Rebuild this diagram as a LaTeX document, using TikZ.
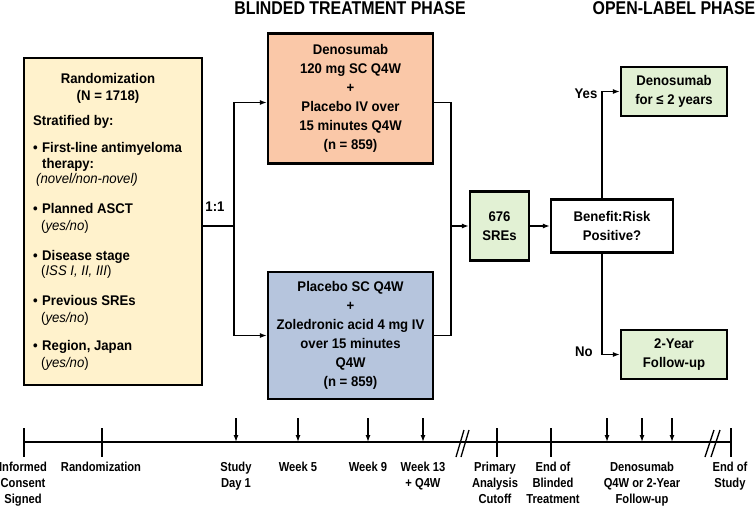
\documentclass[tikz,border=0pt]{standalone}
\usepackage{fontspec}
\setmainfont[FakeStretch=0.94]{Liberation Sans}
\newfontfamily\condfont[FakeStretch=0.86]{Liberation Sans}
\usetikzlibrary{arrows.meta}
\definecolor{randfill}{RGB}{255,242,204}
\definecolor{denofill}{RGB}{250,200,168}
\definecolor{plcfill}{RGB}{182,197,221}
\definecolor{grnfill}{RGB}{226,241,212}
\newcommand\mybul{\makebox[9pt][l]{•}}
\begin{document}
\begin{tikzpicture}[x=1pt,y=-1pt,
  box/.style={draw=black, line width=2.2pt, inner sep=0pt, align=center,
    font=\bfseries\fontsize{14}{19}\selectfont},
  conn/.style={line width=1.3pt},
  arr/.style={conn, -{Latex[length=7pt,width=5pt]}},
  rtxt/.style={inner sep=0pt, anchor=base west, font=\bfseries\fontsize{14}{16}\selectfont},
  rital/.style={inner sep=0pt, anchor=base west, font=\mdseries\fontsize{14}{16}\selectfont},
  lbl/.style={inner sep=0pt, font=\bfseries\fontsize{14}{16}\selectfont},
  hdr/.style={inner sep=0pt, font=\condfont\bfseries\fontsize{18.5}{20}\selectfont},
  tl/.style={inner sep=0pt, anchor=north, align=center, font=\condfont\bfseries\fontsize{13}{16}\selectfont}]
\useasboundingbox (0,0) rectangle (756,512);

% headers
\node[hdr] (h1) at (350,8.5) {BLINDED TREATMENT PHASE};
\node[hdr] (h2) at (674,8.5) {OPEN-LABEL PHASE};

% randomization box
\node[box, fill=randfill, minimum width=178pt, minimum height=327pt] (rand) at (113,221.5) {};
\node[rtxt, anchor=base] (rt1) at (108,83) {Randomization};
\node[rtxt, anchor=base] (rt2) at (108,100) {(N = 1718)};
\node[rtxt] (rt3) at (33,125) {Stratified by:};
\node[rtxt] (rt4) at (33,152) {\mybul First-line antimyeloma};
\node[rtxt] (rt5) at (42,168) {therapy:};
\node[rital] (rt6) at (36,183) {\itshape(novel/non-novel)};
\node[rtxt] (rt7) at (33,213) {\mybul Planned ASCT};
\node[rital] (rt8) at (41,230) {(\textit{yes/no})};
\node[rtxt] (rt9) at (33,260) {\mybul Disease stage};
\node[rital] (rt10) at (41,275) {(\textit{ISS I, II, III})};
\node[rtxt] (rt11) at (33,305) {\mybul Previous SREs};
\node[rital] (rt12) at (41,322) {(\textit{yes/no})};
\node[rtxt] (rt13) at (33,350) {\mybul Region, Japan};
\node[rital] (rt14) at (41,367) {(\textit{yes/no})};

% treatment boxes
\node[box, fill=denofill, minimum width=165pt, minimum height=130pt] (den) at (350.5,98.5)
  {Denosumab\\120 mg SC Q4W\\+\\Placebo IV over\\15 minutes Q4W\\(n = 859)};
\node[box, fill=plcfill, minimum width=165pt, minimum height=127pt] (plc) at (350.5,335.5)
  {Placebo SC Q4W\\+\\Zoledronic acid 4 mg IV\\over 15 minutes\\Q4W\\(n = 859)};

\node[box, fill=grnfill, minimum width=59pt, minimum height=69pt] (sre) at (499.5,226) {676\\SREs};
\node[box, fill=white, minimum width=122pt, minimum height=53pt] (ben) at (612,226) {Benefit:Risk\\Positive?};
\node[box, fill=grnfill, minimum width=106pt, minimum height=49pt] (yesb) at (674,91.5) {Denosumab\\for ≤ 2 years};
\node[box, fill=grnfill, minimum width=106pt, minimum height=49pt] (nob) at (674,354.5) {2-Year\\Follow-up};

% connectors
\coordinate (split) at (234,226);
\coordinate (merge) at (451,226);
\coordinate (dec) at (602,0);
\draw[conn] (rand.east |- split) -- (split);
\draw[arr] (split) |- ([yshift=-4pt]den.west);
\draw[arr] (split) |- (plc.west);
\draw[conn] ([yshift=-4pt]den.east) -| (merge);
\draw[conn] (plc.east) -| (merge);
\draw[arr] (merge) -- (sre.west);
\draw[arr] (sre.east) -- (ben.west);
\draw[arr] (ben.north -| dec) |- (yesb.west);
\draw[arr] (ben.south -| dec) |- (nob.west);

\node[lbl] (r11) at (215,207) {1:1};
\node[lbl] (yl) at (586,94) {Yes};
\node[lbl] (nl) at (584,352) {No};

% timeline
\draw[conn] (24,442) -- (731,442);
\foreach \x in {24,102,497,551,731} \draw[conn] (\x,428) -- (\x,457);
\foreach \x in {236,298,368,423,607,642,672} \draw[arr] (\x,418) -- (\x,442);
\draw[conn] (456,457) -- (464,430);
\draw[conn] (461,457) -- (469,430);
\draw[conn] (705,457) -- (714,430);
\draw[conn] (711,457) -- (720,430);

\node[tl] (t1) at (23,462) {Informed\\Consent\\Signed};
\node[tl] (t2) at (101,462) {Randomization};
\node[tl] (t3) at (236,462) {Study\\Day 1};
\node[tl] (t4) at (298,462) {Week 5};
\node[tl] (t5) at (368,462) {Week 9};
\node[tl] (t6) at (423,462) {Week 13\\+ Q4W};
\node[tl] (t7) at (495,462) {Primary\\Analysis\\Cutoff};
\node[tl] (t8) at (553,462) {End of\\Blinded\\Treatment};
\node[tl] (t9) at (642,462) {Denosumab\\Q4W or 2-Year\\Follow-up};
\node[tl] (t10) at (730,462) {End of\\Study};
\end{tikzpicture}
\end{document}
